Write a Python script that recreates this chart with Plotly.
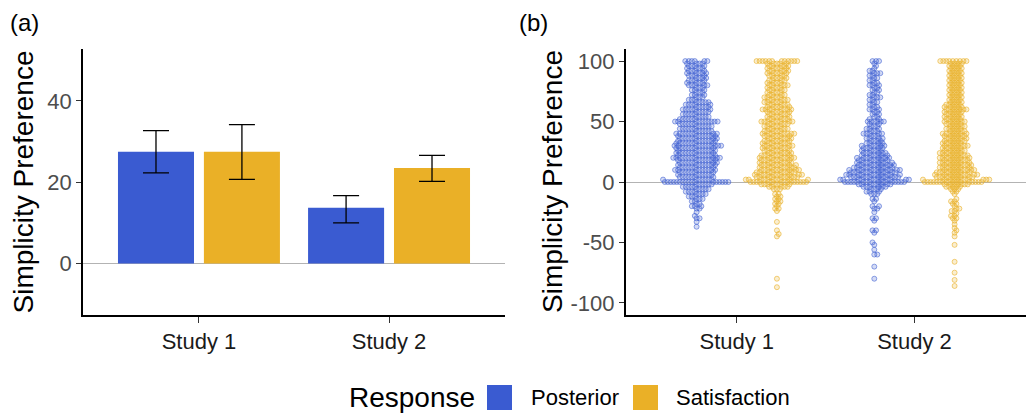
import numpy as np
import plotly.graph_objects as go

# ---------------- data ----------------
studies = ["Study 1", "Study 2"]

posterior_mean = [27.5, 13.7]
posterior_lo = [22.3, 10.0]
posterior_hi = [32.7, 16.7]
satisfaction_mean = [27.5, 23.5]
satisfaction_lo = [20.7, 20.2]
satisfaction_hi = [34.2, 26.6]

a_ticks = [0, 20, 40]
b_ticks = [-100, -50, 0, 50, 100]
b_tick_labels = ["-100", "-50", "0", "50", "100"]

# individual responses (value, count) for the swarm panel
s1_post_vals = [100, 98, 96, 94, 92, 90, 88, 86, 84, 82, 80, 78, 76, 74, 72, 70, 68, 66, 64, 62, 60,
                58, 56, 54, 52, 50, 48, 46, 44, 42, 40, 38, 36, 34, 32, 30, 28, 26, 24, 22, 20,
                18, 16, 14, 12, 10, 8, 6, 4, 2, 0, -2, -4, -6, -8, -10, -12, -14, -16, -18, -20,
                -22, -25, -28, -30, -33, -37]
s1_post_counts = [6, 4, 4, 4, 4, 5, 4, 4, 4, 4, 5, 3, 3, 3, 3, 3, 3, 5, 5, 5, 6,
                  5, 5, 5, 6, 10, 6, 6, 6, 6, 9, 8, 8, 8, 8, 11, 8, 8, 8, 8, 11,
                  8, 8, 8, 7, 9, 7, 7, 7, 7, 17, 6, 5, 5, 4, 4, 3, 3, 2, 2, 3,
                  2, 1, 1, 2, 1, 1]

s1_sat_vals = [100, 98, 96, 94, 92, 90, 88, 86, 84, 82, 80, 78, 76, 74, 72, 70, 68, 66, 64, 62, 60,
               58, 56, 54, 52, 50, 48, 46, 44, 42, 40, 38, 36, 34, 32, 30, 28, 26, 24, 22, 20,
               18, 16, 14, 12, 10, 8, 6, 4, 2, 0, -2, -4, -6, -10, -12, -14, -16, -18, -20,
               -22, -24, -33, -40, -43, -45, -80, -87]
s1_sat_counts = [12, 5, 5, 5, 5, 5, 4, 4, 4, 4, 5, 4, 4, 4, 4, 5, 5, 5, 5, 5, 8,
                 5, 5, 5, 5, 8, 5, 5, 5, 5, 8, 6, 6, 6, 6, 7, 6, 6, 6, 7, 8,
                 7, 7, 8, 8, 9, 9, 10, 10, 10, 15, 7, 5, 3, 2, 2, 2, 2, 2, 1,
                 2, 1, 1, 1, 1, 1, 1, 1]

s2_post_vals = [100, 98, 96, 94, 92, 90, 88, 86, 84, 82, 80, 78, 76, 74, 72, 70, 68, 66, 64, 62, 60,
                58, 56, 54, 52, 50, 48, 46, 44, 42, 40, 38, 36, 34, 32, 30, 28, 26, 24, 22, 20,
                18, 16, 14, 12, 10, 8, 6, 4, 2, 0, -2, -4, -6, -8, -10, -14, -16, -20, -22, -25,
                -30, -32, -40, -42, -50, -52, -56, -60, -70, -80]
s2_post_counts = [3, 1, 1, 1, 2, 3, 2, 2, 2, 2, 3, 2, 2, 2, 2, 3, 2, 2, 2, 2, 3,
                  2, 2, 2, 2, 6, 2, 3, 3, 3, 5, 3, 4, 4, 4, 6, 5, 5, 6, 6, 8,
                  7, 8, 9, 9, 11, 11, 11, 12, 12, 16, 8, 6, 4, 3, 3, 2, 1, 2, 2, 1,
                  2, 1, 2, 1, 1, 1, 1, 2, 1, 1]

s2_sat_vals = [100, 98, 96, 94, 92, 90, 88, 86, 84, 82, 80, 78, 76, 74, 72, 70, 68, 66, 64, 62, 60,
               58, 56, 54, 52, 50, 48, 46, 44, 42, 40, 38, 36, 34, 32, 30, 28, 26, 24, 22, 20,
               18, 16, 14, 12, 10, 8, 6, 4, 2, 0, -2, -4, -6, -8, -10, -14, -16, -18, -20, -22,
               -24, -26, -28, -30, -32, -35, -38, -40, -42, -45, -52, -66, -75, -81, -86]
s2_sat_counts = [9, 4, 4, 4, 4, 4, 4, 4, 4, 4, 4, 4, 4, 4, 4, 4, 4, 4, 5, 5, 7,
                 5, 5, 5, 5, 6, 5, 5, 5, 5, 7, 6, 6, 6, 6, 7, 6, 6, 7, 7, 8,
                 7, 8, 8, 8, 9, 9, 10, 10, 11, 17, 7, 5, 3, 2, 1, 1, 2, 2, 1, 2,
                 2, 1, 2, 2, 1, 1, 1, 1, 1, 1, 1, 1, 1, 1, 1]

# ---------------- styling / geometry ----------------
W, H = 1029, 417
BLUE = "#3A5BD1"
ORANGE = "#EAB027"
BLUE_FILL = "rgba(58,91,209,0.22)"
BLUE_EDGE = "rgba(58,91,209,0.70)"
ORANGE_FILL = "rgba(234,176,39,0.22)"
ORANGE_EDGE = "rgba(234,176,39,0.75)"
FONT = "Liberation Sans, Arial, sans-serif"

y_dom = [(H - 315) / H, (H - 49) / H]
xa_dom = [83 / W, 505 / W]
xb_dom = [625.7 / W, 1025.5 / W]
xa_range = [-0.61, 1.61]
xb_range = [-0.625, 1.625]
ya_range = [-12.7, 52.8]
yb_range = [-110, 110]
dodge = 0.226
bar_w = 0.40

# px per data unit on panel (b)
xb_px = (xb_dom[1] - xb_dom[0]) * W / (xb_range[1] - xb_range[0])
yb_px = (y_dom[1] - y_dom[0]) * H / (yb_range[1] - yb_range[0])


def swarm_offsets(values, d=3.0):
    """Simple beeswarm: place points in ascending order at the smallest |x| free slot,
    alternating sides when two slots are equally close."""
    ys = np.asarray(values, dtype=float) * yb_px
    order = np.argsort(ys, kind="stable")
    px, py = [], []
    out = np.zeros(len(ys))
    flip = 1.0
    for i in order:
        y = ys[i]
        near = [(a, b) for a, b in zip(px, py) if abs(b - y) < d]
        cands = [0.0]
        for a, b in near:
            dx = np.sqrt(max(d * d - (b - y) ** 2, 0.0))
            cands.extend([a + dx, a - dx])
        cands.sort(key=lambda c: (round(abs(c), 4), flip * c))
        x = cands[-1]
        for c in cands:
            if all((c - a) ** 2 + (y - b) ** 2 >= d * d - 1e-6 for a, b in near):
                x = c
                break
        flip = -flip
        px.append(x)
        py.append(y)
        out[i] = x
    return out / xb_px


fig = go.Figure()

# ---------------- panel (a): bars ----------------
idx = np.arange(len(studies))
for name, mean, lo, hi, col, sign in [
    ("Posterior", posterior_mean, posterior_lo, posterior_hi, BLUE, -1),
    ("Satisfaction", satisfaction_mean, satisfaction_lo, satisfaction_hi, ORANGE, 1),
]:
    m = np.array(mean)
    fig.add_trace(go.Bar(
        x=idx + sign * dodge, y=m, width=bar_w,
        marker=dict(color=col, line=dict(width=0)),
        error_y=dict(type="data", symmetric=False,
                     array=np.array(hi) - m, arrayminus=m - np.array(lo),
                     color="black", thickness=1.3, width=13),
        showlegend=False, xaxis="x", yaxis="y", name=name,
    ))

# ---------------- panel (b): swarm ----------------
groups = [
    (0, -1, s1_post_vals, s1_post_counts, BLUE_FILL, BLUE_EDGE),
    (0, 1, s1_sat_vals, s1_sat_counts, ORANGE_FILL, ORANGE_EDGE),
    (1, -1, s2_post_vals, s2_post_counts, BLUE_FILL, BLUE_EDGE),
    (1, 1, s2_sat_vals, s2_sat_counts, ORANGE_FILL, ORANGE_EDGE),
]
for si, sign, vals, cnts, fill, edge in groups:
    v = np.repeat(np.array(vals, dtype=float), np.array(cnts))
    off = swarm_offsets(v)
    fig.add_trace(go.Scatter(
        x=si + sign * dodge + off, y=v, mode="markers",
        marker=dict(size=5, color=fill, line=dict(color=edge, width=0.8)),
        showlegend=False, xaxis="x2", yaxis="y2", hoverinfo="y",
    ))

axis_common = dict(showline=True, linecolor="black", linewidth=1.5, ticks="outside",
                   tickcolor="#333333", tickwidth=1.3, showgrid=False)

fig.update_layout(
    width=W, height=H,
    margin=dict(l=0, r=0, t=0, b=0),
    paper_bgcolor="white", plot_bgcolor="white",
    font=dict(family=FONT),
    xaxis=dict(domain=xa_dom, range=xa_range, tickvals=idx, ticktext=studies,
               ticklen=6, zeroline=False, anchor="y",
               tickfont=dict(size=22, color="#1a1a1a"), **axis_common),
    yaxis=dict(domain=y_dom, range=ya_range, tickvals=a_ticks,
               ticktext=[str(t) for t in a_ticks], ticklen=5,
               zeroline=True, zerolinecolor="#B3B3B3", zerolinewidth=1.2, anchor="x",
               tickfont=dict(size=22, color="#4D4D4D"), **axis_common),
    xaxis2=dict(domain=xb_dom, range=xb_range, tickvals=idx, ticktext=studies,
                ticklen=6, zeroline=False, anchor="y2",
                tickfont=dict(size=22, color="#1a1a1a"), **axis_common),
    yaxis2=dict(domain=y_dom, range=yb_range, tickvals=b_ticks, ticktext=b_tick_labels,
                ticklen=5, zeroline=True, zerolinecolor="#B3B3B3", zerolinewidth=1.2,
                anchor="x2", tickfont=dict(size=22, color="#4D4D4D"), **axis_common),
    showlegend=False,
)

ymid = (y_dom[0] + y_dom[1]) / 2
ann = [
    dict(text="(a)", x=8 / W, y=(H - 22) / H, xanchor="left", yanchor="middle",
         font=dict(size=24, color="black")),
    dict(text="(b)", x=517 / W, y=(H - 22) / H, xanchor="left", yanchor="middle",
         font=dict(size=24, color="black")),
    dict(text="Simplicity Preference", textangle=-90, x=22.5 / W, y=ymid,
         xanchor="center", yanchor="middle", font=dict(size=28, color="black")),
    dict(text="Simplicity Preference", textangle=-90, x=552 / W, y=ymid,
         xanchor="center", yanchor="middle", font=dict(size=28, color="black")),
    dict(text="Response", x=347 / W, y=(H - 397) / H, xanchor="left", yanchor="middle",
         font=dict(size=28, color="black")),
    dict(text="Posterior", x=529 / W, y=(H - 397) / H, xanchor="left", yanchor="middle",
         font=dict(size=22, color="black")),
    dict(text="Satisfaction", x=674 / W, y=(H - 397) / H, xanchor="left", yanchor="middle",
         font=dict(size=22, color="black")),
]
for a in ann:
    a.update(xref="paper", yref="paper", showarrow=False)
fig.update_layout(annotations=ann)

for x0, col in [(487, BLUE), (633, ORANGE)]:
    fig.add_shape(type="rect", xref="paper", yref="paper",
                  x0=x0 / W, x1=(x0 + 25) / W, y0=(H - 410) / H, y1=(H - 385) / H,
                  fillcolor=col, line=dict(width=0))

fig.write_html("out.html", config={"displayModeBar": False},
               post_script="document.body.style.margin='0';document.body.style.overflow='hidden';")
